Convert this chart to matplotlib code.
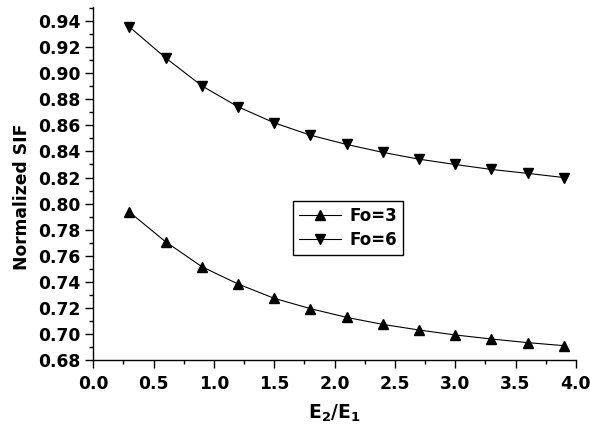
import matplotlib
matplotlib.use("Agg")
import matplotlib.pyplot as plt
from matplotlib.ticker import MultipleLocator, FormatStrFormatter

plt.rcParams['font.family'] = ['DejaVu Sans']
plt.rcParams['font.weight'] = 'bold'
plt.rcParams['mathtext.fontset'] = 'dejavusans'

x = [0.3, 0.6, 0.9, 1.2, 1.5, 1.8, 2.1, 2.4, 2.7, 3.0, 3.3, 3.6, 3.9]
fo3 = [0.7935, 0.7707, 0.7516, 0.7383, 0.7273, 0.7194, 0.7127, 0.7073, 0.7030, 0.6992, 0.6961, 0.6933, 0.6910]
fo6 = [0.9356, 0.9118, 0.8904, 0.8743, 0.8620, 0.8525, 0.8454, 0.8393, 0.8341, 0.8300, 0.8262, 0.8232, 0.8200]

fig = plt.figure(figsize=(5.9, 4.26), dpi=100)
ax = fig.add_axes([0.158, 0.155, 0.818, 0.829])

ax.plot(x, fo3, color='black', lw=0.8, marker='^', ms=7, label='Fo=3')
ax.plot(x, fo6, color='black', lw=0.8, marker='v', ms=7, label='Fo=6')

ax.set_xlim(0.0, 4.0)
ax.set_ylim(0.68, 0.951)
ax.xaxis.set_major_locator(MultipleLocator(0.5))
ax.xaxis.set_minor_locator(MultipleLocator(0.25))
ax.yaxis.set_major_locator(MultipleLocator(0.02))
ax.yaxis.set_minor_locator(MultipleLocator(0.01))
ax.xaxis.set_major_formatter(FormatStrFormatter('%.1f'))
ax.yaxis.set_major_formatter(FormatStrFormatter('%.2f'))

for s in ['top', 'right']:
    ax.spines[s].set_visible(False)
for s in ['left', 'bottom']:
    ax.spines[s].set_linewidth(1.0)

ax.tick_params(which='major', direction='out', length=5.5, width=1.0, labelsize=12.3)
ax.tick_params(axis='y', which='major', pad=3.5)
ax.tick_params(axis='x', which='major', pad=5)
ax.tick_params(which='minor', direction='out', length=3, width=1.0)
for lbl in ax.get_xticklabels() + ax.get_yticklabels():
    lbl.set_fontweight('bold')

ax.set_xlabel(r'$\mathbf{E_2/E_1}$', fontsize=13.5, labelpad=7)
ax.set_ylabel('Normalized SIF', fontsize=12.3, fontweight='bold')
ax.yaxis.set_label_coords(-0.128, 0.462)

leg = ax.legend(loc='lower left', bbox_to_anchor=(0.414, 0.297), fancybox=False,
                edgecolor='black', framealpha=1, fontsize=12, handlelength=2.5,
                handletextpad=0.55, borderpad=0.35, labelspacing=0.4,
                borderaxespad=0)
leg.get_frame().set_linewidth(1.0)
for t in leg.get_texts():
    t.set_fontweight('bold')

fig.savefig('out.png', dpi=100)
